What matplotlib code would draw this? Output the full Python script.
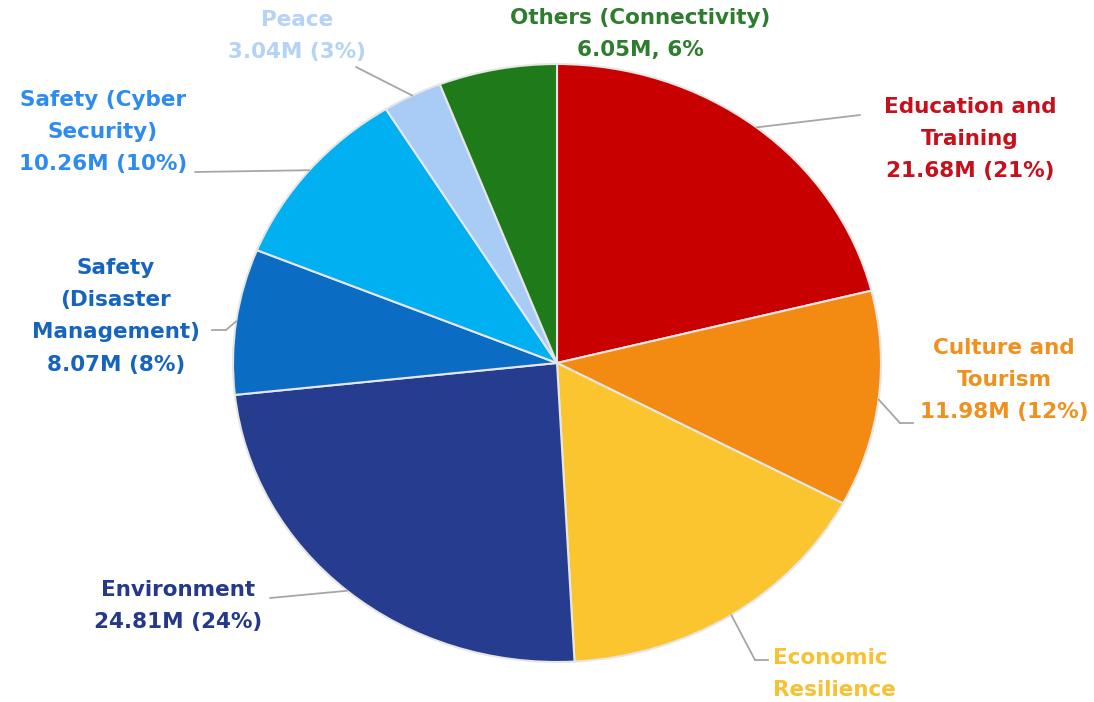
import matplotlib
matplotlib.use("Agg")
import matplotlib.pyplot as plt
import numpy as np

categories = ["Education and\nTraining", "Culture and\nTourism", "Economic\nResilience",
              "Environment", "Safety\n(Disaster\nManagement)", "Safety (Cyber\nSecurity)",
              "Peace", "Others (Connectivity)"]
values = [21.68, 11.98, 16.8, 24.81, 8.07, 10.26, 3.04, 6.05]
value_labels = ["21.68M (21%)", "11.98M (12%)", None, "24.81M (24%)", "8.07M (8%)",
                "10.26M (10%)", "3.04M (3%)", "6.05M, 6%"]
slice_colors = ["#C80000", "#F38B12", "#FBC530", "#253C8F", "#0A6CC2", "#00B0F0",
                "#A8CCF6", "#1F7A1A"]
text_colors = ["#C8101A", "#F0901E", "#F6C233", "#25398A", "#1565BF", "#2E8CF0",
               "#B5D3F5", "#2E7D2E"]

W, H = 1094, 702
fig = plt.figure(figsize=(W / 100, H / 100), dpi=100)
fig.patch.set_facecolor("white")

# pie occupies an ellipse (slightly wider than tall)
ax = fig.add_axes([233 / W, 40 / H, 648 / W, 598 / H])
wedges, _ = ax.pie(values, colors=slice_colors, startangle=90, counterclock=False,
                   radius=1.0, wedgeprops=dict(edgecolor="#E6E6E6", linewidth=1.5))
ax.set_aspect("auto")
ax.set_xlim(-1, 1)
ax.set_ylim(-1, 1)
ax.axis("off")


def fxy(x, y):
    return (x / W, 1 - y / H)


# label layout: (center x, first-line y, alignment, leader end in px, elbow in px)
layout = [
    dict(x=970, y=107, ha="center", end=(860, 115), elbow=None),
    dict(x=1004, y=348, ha="center", end=(913, 423), elbow=(900, 423)),
    dict(x=773, y=658, ha="left", end=(768, 660), elbow=(755, 660)),
    dict(x=178, y=590, ha="center", end=(270, 598), elbow=None),
    dict(x=116, y=268, ha="center", end=(212, 330), elbow=(226, 330)),
    dict(x=103, y=100, ha="center", end=(195, 172), elbow=None),
    dict(x=297, y=20, ha="center", end=(356, 67), elbow=None),
    dict(x=640, y=18, ha="center", end=None, elbow=None),
]

line_h = 32.2
for w, cat, vl, col, lay in zip(wedges, categories, value_labels, text_colors, layout):
    lines = cat.split("\n") + ([vl] if vl else [])
    for i, ln in enumerate(lines):
        fig.text(*fxy(lay["x"], lay["y"] + i * line_h), ln, ha=lay["ha"], va="center",
                 color=col, fontsize=15.5, fontweight="bold", family="DejaVu Sans")
    if lay["end"] is None:
        continue
    mid = np.deg2rad((w.theta1 + w.theta2) / 2)
    anchor = (np.cos(mid), np.sin(mid))
    target = lay["elbow"] if lay["elbow"] else lay["end"]
    ax.annotate("", xy=anchor, xycoords="data", xytext=fxy(*target),
                textcoords="figure fraction",
                arrowprops=dict(arrowstyle="-", color="#A6A6A6", lw=1.3,
                                shrinkA=0, shrinkB=0))
    if lay["elbow"]:
        p1 = fxy(*lay["elbow"])
        p2 = fxy(*lay["end"])
        fig.add_artist(plt.Line2D([p1[0], p2[0]], [p1[1], p2[1]],
                                  transform=fig.transFigure, color="#A6A6A6", lw=1.3))

fig.savefig("out.png", dpi=100, facecolor="white")
